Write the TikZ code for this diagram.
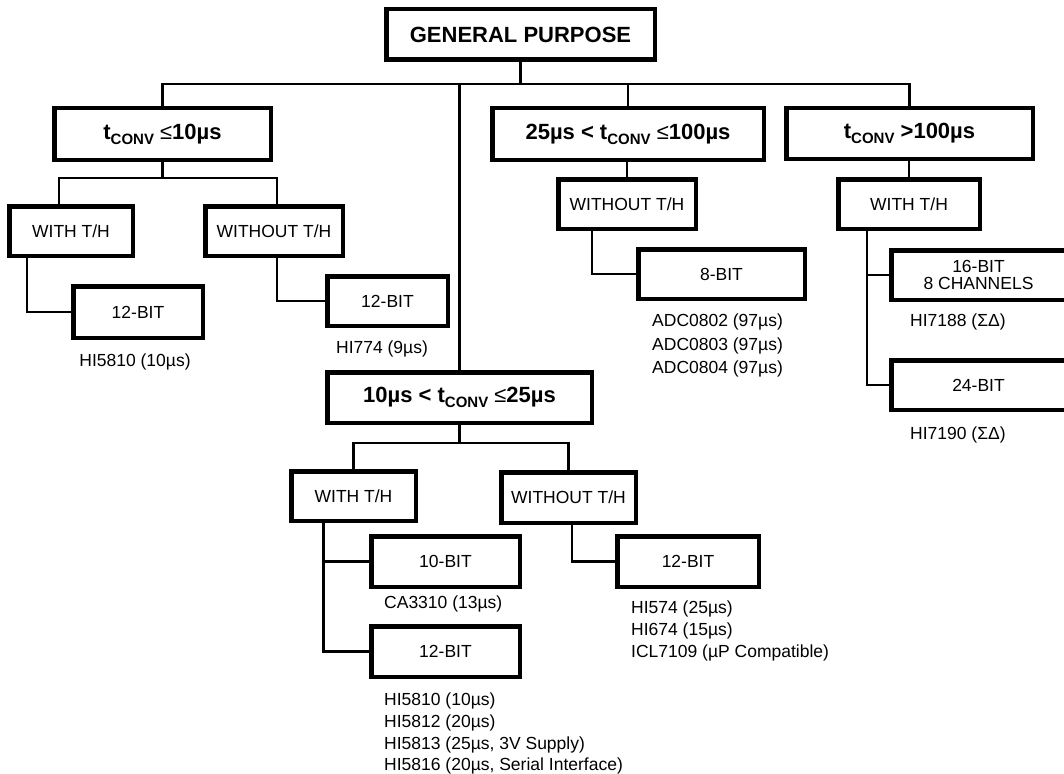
\documentclass[tikz,border=0pt]{standalone}
\usepackage{fontspec}
\setmainfont{Liberation Sans}
\newcommand{\tconv}{t\raisebox{-5pt}{\fontsize{15}{15}\selectfont CONV}}
\tikzset{
  bigbox/.style={draw, line width=4.5pt, inner sep=0pt, font=\bfseries\fontsize{22}{24}\selectfont},
  smallbox/.style={draw, line width=4.5pt, inner sep=0pt, align=center, font=\fontsize{17.5}{17}\selectfont},
  partlist/.style={inner sep=0pt, align=left, anchor=north west, font=\fontsize{17.5}{21.7}\selectfont},
  wire/.style={line width=2.5pt}
}
\begin{document}
\begin{tikzpicture}[x=1pt,y=-1pt]
            \useasboundingbox (0,0) rectangle (1064,773);
            \node[bigbox, minimum width=268.5pt, minimum height=50.5pt] (gp) at (520.5,34.5) {GENERAL PURPOSE};
            \node[bigbox, minimum width=216.5pt, minimum height=51.5pt] (c1) at (162.5,134) {\tconv\ {\mdseries ≤}10µs};
            \node[bigbox, minimum width=271.5pt, minimum height=51.5pt] (c3) at (628,134) {25µs < \tconv\ {\mdseries ≤}100µs};
            \node[bigbox, minimum width=246.5pt, minimum height=50.5pt] (c4) at (909.5,133.5) {\tconv\ >100µs};
            \node[bigbox, minimum width=264.5pt, minimum height=50.5pt] (c2) at (459.5,397.5) {10µs < \tconv\ {\mdseries ≤}25µs};

            \node[smallbox, minimum width=123.5pt, minimum height=49.5pt] (a1) at (71,231) {WITH T/H};
            \node[smallbox, minimum width=137.5pt, minimum height=49.5pt] (a2) at (274,231) {WITHOUT T/H};
            \node[smallbox, minimum width=129.5pt, minimum height=51.5pt] (a1b) at (138,312) {12-BIT};
            \node[smallbox, minimum width=120.5pt, minimum height=49.5pt] (a2b) at (387.5,301) {12-BIT};
            \node[smallbox, minimum width=137.5pt, minimum height=49.5pt] (d1) at (627,204) {WITHOUT T/H};
            \node[smallbox, minimum width=166.5pt, minimum height=49.5pt] (d1a) at (721.5,274) {8-BIT};
            \node[smallbox, minimum width=141.5pt, minimum height=49.5pt] (e1) at (909,204) {WITH T/H};
            \node[smallbox, minimum width=174.5pt, minimum height=49.5pt] (e1a) at (978.5,275) {16-BIT\\8 CHANNELS};
            \node[smallbox, minimum width=174.5pt, minimum height=49.5pt] (e1b) at (978.5,385) {24-BIT};
            \node[smallbox, minimum width=124.5pt, minimum height=49.5pt] (b1) at (353.5,496) {WITH T/H};
            \node[smallbox, minimum width=134.5pt, minimum height=50.5pt] (b2) at (568.5,497.5) {WITHOUT T/H};
            \node[smallbox, minimum width=148.5pt, minimum height=50.5pt] (b1a) at (445.5,561.5) {10-BIT};
            \node[smallbox, minimum width=148.5pt, minimum height=50.5pt] (b1b) at (445.5,651.5) {12-BIT};
            \node[smallbox, minimum width=141.5pt, minimum height=50.5pt] (b2a) at (688,561.5) {12-BIT};

            \coordinate (hub) at (gp.south |- 0,84);
            \draw[wire] (gp.south) -- (hub);
            \draw[wire] (c1.north) |- (hub) -| (c4.north);
            \draw[wire] (c3.north) -- (c3.north |- hub);
            \draw[wire] (c2.north) -- (c2.north |- hub);

            \coordinate (j1) at (c1.south |- 0,178);
            \draw[wire] (c1.south) -- (j1);
            \draw[wire] ([xshift=-12pt]a1.north) |- (j1) -| ([xshift=3pt]a2.north);
            \draw[wire] ([xshift=-44pt]a1.south) |- (a1b.west);
            \draw[wire] ([xshift=3pt]a2.south) |- (a2b.west);

            \draw[wire] (d1.north) -- (d1.north |- c3.south);
            \draw[wire] ([xshift=-35pt]d1.south) |- (d1a.west);

            \draw[wire] (e1.north) -- (e1.north |- c4.south);
            \coordinate (e1x) at ([xshift=-42pt]e1.south);
            \draw[wire] (e1x) |- (e1b.west);
            \draw[wire] (e1a.west) -- (e1a.west -| e1x);

            \coordinate (j2) at (c2.south |- 0,443);
            \draw[wire] (c2.south) -- (j2);
            \draw[wire] (b1.north) |- (j2) -| (b2.north);
            \coordinate (b1x) at ([xshift=-30pt]b1.south);
            \draw[wire] (b1x) |- (b1b.west);
            \draw[wire] (b1a.west) -- (b1a.west -| b1x);
            \draw[wire] ([xshift=3.5pt]b2.south) |- (b2a.west);

            \node[partlist, anchor=north] (l1) at (135,354) {HI5810 (10µs)};
            \node[partlist, anchor=north] (l2) at (382,341) {HI774 (9µs)};
            \node[partlist, font=\fontsize{17.5}{23.5}\selectfont] (l3) at (652,314) {ADC0802 (97µs)\\ADC0803 (97µs)\\ADC0804 (97µs)};
            \node[partlist] (l4) at (910,314) {HI7188 (ΣΔ)};
            \node[partlist] (l5) at (910,427) {HI7190 (ΣΔ)};
            \node[partlist] (l6) at (384,596) {CA3310 (13µs)};
            \node[partlist] (l7) at (384,693) {HI5810 (10µs)\\HI5812 (20µs)\\HI5813 (25µs, 3V Supply)\\HI5816 (20µs, Serial Interface)};
            \node[partlist] (l8) at (631,601) {HI574 (25µs)\\HI674 (15µs)\\ICL7109 (µP Compatible)};
\end{tikzpicture}
\end{document}
